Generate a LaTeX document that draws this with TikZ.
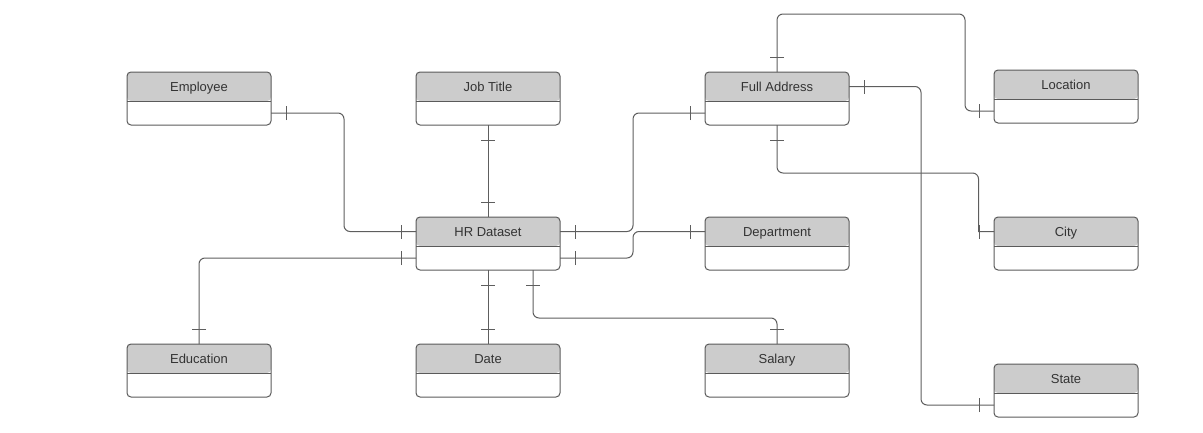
\documentclass[tikz,border=0pt]{standalone}
\usepackage{fontspec}
\setmainfont{Liberation Sans}
\usetikzlibrary{positioning,decorations.markings}

\definecolor{hdrgray}{HTML}{CCCCCC}
\definecolor{boxline}{HTML}{5A5A5A}
\definecolor{connline}{HTML}{5E5E5E}
\definecolor{labeltext}{HTML}{333333}

\begin{document}
\begin{tikzpicture}[x=0.75pt, y=-0.75pt,
    entity/.style={draw=boxline, line width=0.75pt, rounded corners=3pt, minimum width=108pt, minimum height=39.75pt, inner sep=0pt, outer sep=0pt, text height=14.4pt, text depth=25.35pt, text=labeltext, font=\fontsize{9.75}{12}\selectfont,
        path picture={\fill[hdrgray] (path picture bounding box.north west) rectangle ([yshift=-21.75pt]path picture bounding box.north east);
            \draw[boxline, line width=0.75pt] ([yshift=-21.75pt]path picture bounding box.north west) -- ([yshift=-21.75pt]path picture bounding box.north east);}},
    link/.style={draw=connline, line width=0.75pt, rounded corners=4.5pt, postaction={decorate},
        decoration={markings,
            mark=at position 11.25pt with {\draw[connline, line width=0.75pt, sharp corners] (0,-5.25pt) -- (0,5.25pt);},
            mark=at position -11.25pt with {\draw[connline, line width=0.75pt, sharp corners] (0,-5.25pt) -- (0,5.25pt);}}}
]
    \useasboundingbox (0,0) rectangle (1203,432);

    % Entities
    \node[entity] (emp) at (199,98.5) {Employee};
    \node[entity, right=108.75pt of emp] (job) {Job Title};
    \node[entity, right=108.75pt of job] (addr) {Full Address};
    \node[entity, right=108.75pt of addr, yshift=1.5pt] (loc) {Location};
    \node[entity, below=69pt of job] (hr) {HR Dataset};
    \node[entity, right=108.75pt of hr] (dept) {Department};
    \node[entity, right=108.75pt of dept] (city) {City};
    \node[entity, below=55.5pt of hr] (date) {Date};
    \node[entity, left=108.75pt of date] (edu) {Education};
    \node[entity, right=108.75pt of date] (sal) {Salary};
    \node[entity, below=70.5pt of city] (state) {State};

    % Relationships to HR Dataset
    \draw[link] ([yshift=9pt]emp.south east) -| (344,170) |- ([yshift=-10.875pt]hr.north west);
    \draw[link] (edu.north) |- ([yshift=9pt]hr.south west);
    \draw[link] (job.south) -- (hr.north);
    \draw[link] ([yshift=-10.875pt]hr.north east) -| (633,170) |- ([yshift=9pt]addr.south west);
    \draw[link] ([yshift=9pt]hr.south east) -| (633,245) |- ([yshift=-10.875pt]dept.north west);
    \draw[link] (hr.south) -- (date.north);
    \draw[link] ([xshift=33.75pt]hr.south) |- (700,318) -| (sal.north);

    % Relationships to Full Address
    \draw[link] (addr.north) |- (870,14) -| (965,60) |- ([yshift=9pt]loc.south west);
    \draw[link] (addr.south) |- (880,173) -| ([xshift=-11.6pt]city.north west) [sharp corners] |- ([yshift=-10.875pt]city.north west);
    \draw[link] ([yshift=-10.875pt]addr.north east) -| (921,250) |- ([yshift=9pt]state.south west);
\end{tikzpicture}
\end{document}
